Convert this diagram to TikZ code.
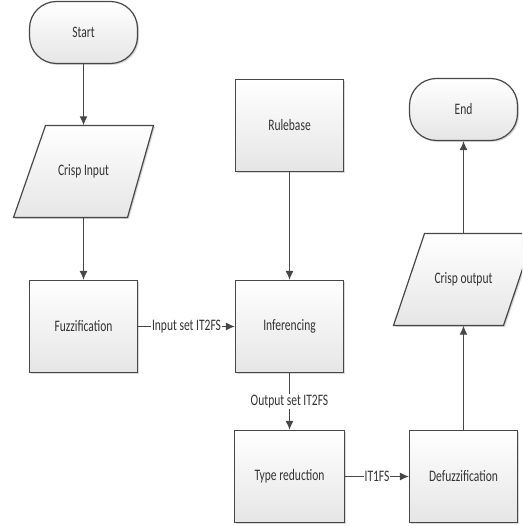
\documentclass[tikz,border=0pt]{standalone}
\usepackage{fontspec}
\setmainfont{Carlito}
\usetikzlibrary{arrows.meta,shadows,positioning}
\definecolor{edge}{HTML}{474747}
\definecolor{txt}{HTML}{333333}
\newcommand{\sq}[1]{\scalebox{0.72}[1]{#1}}
\begin{document}
\begin{tikzpicture}[x=1pt,y=1pt,
  font=\fontsize{16}{18}\selectfont, text=txt,
  boxshade/.style={top color=white, bottom color=black!10},
  shad/.style={drop shadow={shadow xshift=1.5pt, shadow yshift=-1.5pt, opacity=0.25, fill=black!60}},
  procbox/.style={draw=edge, line width=1.2pt, boxshade, shad, minimum width=108pt, minimum height=92pt, inner sep=0pt},
  termbox/.style={draw=edge, line width=1.2pt, boxshade, shad, rounded corners=27pt, minimum width=108pt, minimum height=62pt, inner sep=0pt},
  iobox/.style={minimum width=110pt, minimum height=92pt, inner sep=0pt},
  para/.style={draw=edge, line width=1.2pt, boxshade, shad, line join=miter},
  conn/.style={draw=edge, line width=1.2pt, -{Latex[length=9pt,width=8pt]}},
  lab/.style={fill=white, inner sep=1pt, text=txt}
]
\useasboundingbox (0,0) rectangle (522,526);
\clip (0,0) rectangle (522,526);

% parallelogram outlines (drawn first, text nodes on top)
\path[para] (45.5,400.5) -- (153.5,400.5) -- (127.5,308.5) -- (13.5,308.5) -- cycle;
\path[para] (424.5,292.5) -- (534.5,292.5) -- (503.5,200.5) -- (393.5,200.5) -- cycle;

\node[termbox] (start) at (83.5,493.5) {\sq{Start}};
\node[iobox] (cin) at (83.5,354.5) {\sq{Crisp Input}};
\node[procbox] (fuzz) at (83.5,199.5) {\sq{Fuzzification}};
\node[procbox] (rule) at (289.5,400.5) {\sq{Rulebase}};
\node[procbox] (inf) at (289.5,199.5) {\sq{Inferencing}};
\node[procbox, minimum width=110pt] (tr) at (289.5,49.5) {\sq{Type reduction}};
\node[procbox] (defz) at (463.5,49.5) {\sq{Defuzzification}};
\node[iobox] (cout) at (463.5,246.5) {\sq{Crisp output}};
\node[termbox] (end) at (463.5,416.5) {\sq{End}};

\draw[conn] (start.south) -- (cin.north);
\draw[conn] (cin.south) -- (fuzz.north);
\draw[conn] (fuzz.east) -- node[lab] {\sq{Input set IT2FS}} (inf.west);
\draw[conn] (rule.south) -- (inf.north);
\draw[conn] (inf.south) -- node[lab] {\sq{Output set IT2FS}} (tr.north);
\draw[conn] (tr.east) -- node[lab] {\sq{IT1FS}} (defz.west);
\draw[conn] (defz.north) -- (cout.south);
\draw[conn] (cout.north) -- (end.south);
\end{tikzpicture}
\end{document}
